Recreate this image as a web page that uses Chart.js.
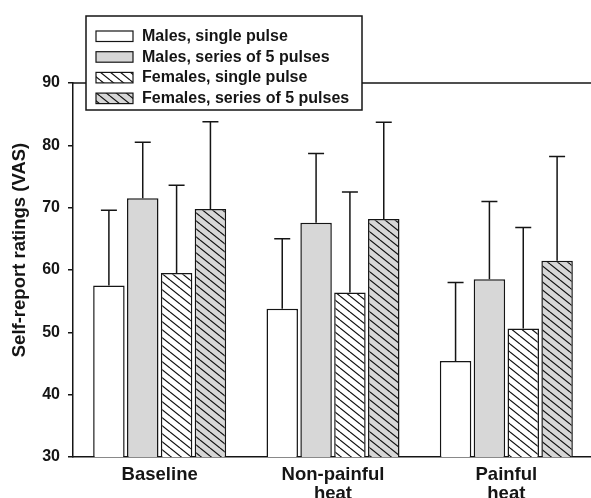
<!DOCTYPE html>
<html>
<head>
<meta charset="utf-8">
<script src="https://cdn.jsdelivr.net/npm/chart.js@4.4.0/dist/chart.umd.min.js"></script>
<style>
  html, body { margin: 0; padding: 0; background: #fff; overflow: hidden; }
  #wrap { width: 596px; height: 498px; position: relative; }
</style>
</head>
<body>
<div id="wrap"><canvas id="chart"></canvas></div>
<script>
// values (means, upper SD)
var categories = ["Baseline", ["Non-painful", "heat"], ["Painful", "heat"]];
var seriesNames = ["Males, single pulse", "Males, series of 5 pulses",
                   "Females, single pulse", "Females, series of 5 pulses"];
var maleSingle = [57.5, 53.8, 45.4];
var maleSeries = [71.5, 67.6, 58.5];
var femaleSingle = [59.5, 56.4, 50.6];
var femaleSeries = [69.8, 68.2, 61.5];
var maleSingleSd = [12.1, 11.2, 12.6];
var maleSeriesSd = [9.0, 11.1, 12.5];
var femaleSingleSd = [14.1, 16.1, 16.2];
var femaleSeriesSd = [14.0, 15.5, 16.7];
var yTicks = [30, 40, 50, 60, 70, 80, 90];

var FONT = '"Liberation Sans", Arial, sans-serif';
var INK = '#151515';
var GREY = '#d7d7d7';

function hatch(bg) {
  var c = document.createElement('canvas');
  var w = 10, h = 8;
  c.width = w; c.height = h;
  var g = c.getContext('2d');
  g.fillStyle = bg;
  g.fillRect(0, 0, w, h);
  g.strokeStyle = '#111';
  g.lineWidth = 1.2;
  for (var k = -1; k <= 1; k++) {
    g.beginPath();
    g.moveTo(0, k * h);
    g.lineTo(w, (k + 1) * h);
    g.stroke();
  }
  return g.createPattern(c, 'repeat');
}

var fills = ['#ffffff', GREY, hatch('#ffffff'), hatch(GREY)];
var values = [maleSingle, maleSeries, femaleSingle, femaleSeries];
var sds = [maleSingleSd, maleSeriesSd, femaleSingleSd, femaleSeriesSd];

var datasets = seriesNames.map(function(name, i) {
  return {
    label: name,
    data: values[i],
    sd: sds[i],
    backgroundColor: fills[i],
    borderColor: INK,
    borderWidth: 1.5,
    borderSkipped: false
  };
});

var errorBars = {
  id: 'errorBars',
  afterDatasetsDraw: function(chart) {
    var ctx = chart.ctx, y = chart.scales.y;
    ctx.save();
    ctx.strokeStyle = INK;
    ctx.lineWidth = 1.5;
    chart.data.datasets.forEach(function(ds, i) {
      chart.getDatasetMeta(i).data.forEach(function(bar, j) {
        var top = y.getPixelForValue(ds.data[j] + ds.sd[j]);
        ctx.beginPath();
        ctx.moveTo(bar.x, bar.y);
        ctx.lineTo(bar.x, top);
        ctx.moveTo(bar.x - 8, top);
        ctx.lineTo(bar.x + 8, top);
        ctx.stroke();
      });
    });
    ctx.restore();
  }
};

var frame = {
  id: 'frame',
  afterDraw: function(chart) {
    var ctx = chart.ctx, a = chart.chartArea;
    ctx.save();
    // top border line at 90
    ctx.strokeStyle = INK;
    ctx.lineWidth = 1.5;
    ctx.beginPath();
    ctx.moveTo(a.left, a.top);
    ctx.lineTo(a.right, a.top);
    ctx.stroke();

    // y axis title
    ctx.fillStyle = INK;
    ctx.font = 'bold 18.5px ' + FONT;
    ctx.textAlign = 'center';
    ctx.textBaseline = 'middle';
    ctx.translate(19.5, 250);
    ctx.rotate(-Math.PI / 2);
    ctx.fillText('Self-report ratings (VAS)', 0, 0);
    ctx.setTransform(1, 0, 0, 1, 0, 0);

    // legend box
    ctx.fillStyle = '#fff';
    ctx.fillRect(86, 16, 276, 94);
    ctx.strokeRect(86, 16, 276, 94);
    ctx.font = 'bold 16px ' + FONT;
    ctx.textAlign = 'left';
    chart.data.datasets.forEach(function(ds, i) {
      var ty = 31 + i * 20.7;
      ctx.fillStyle = ds.backgroundColor;
      ctx.fillRect(96, ty, 37, 10.5);
      ctx.lineWidth = 1.2;
      ctx.strokeRect(96, ty, 37, 10.5);
      ctx.fillStyle = INK;
      ctx.fillText(ds.label, 142, ty + 5.5);
    });
    ctx.restore();
  }
};

new Chart(document.getElementById('chart'), {
  type: 'bar',
  data: { labels: categories, datasets: datasets },
  plugins: [errorBars, frame],
  options: {
    responsive: true,
    maintainAspectRatio: false,
    animation: false,
    layout: { padding: { top: 83, right: 3, left: 0, bottom: 0 } },
    datasets: { bar: { categoryPercentage: 0.781, barPercentage: 0.93 } },
    plugins: { legend: { display: false }, tooltip: { enabled: false } },
    scales: {
      x: {
        grid: { display: false, drawTicks: false },
        border: { display: true, color: INK, width: 1.5 },
        ticks: { color: INK, padding: 9, font: { family: FONT, size: 18.5, weight: 'bold', lineHeight: 1.0 } },
        afterFit: function(s) { s.height = 41; }
      },
      y: {
        min: 30, max: 90,
        afterBuildTicks: function(s) { s.ticks = yTicks.map(function(v) { return { value: v }; }); },
        grid: { display: true, drawOnChartArea: false, drawTicks: true, tickLength: 5, color: INK, lineWidth: 1.5 },
        border: { display: true, color: INK, width: 1.5 },
        ticks: { color: INK, padding: 8, font: { family: FONT, size: 16, weight: 'bold' } },
        afterFit: function(s) { s.width = 73; }
      }
    }
  }
});
</script>
</body>
</html>
